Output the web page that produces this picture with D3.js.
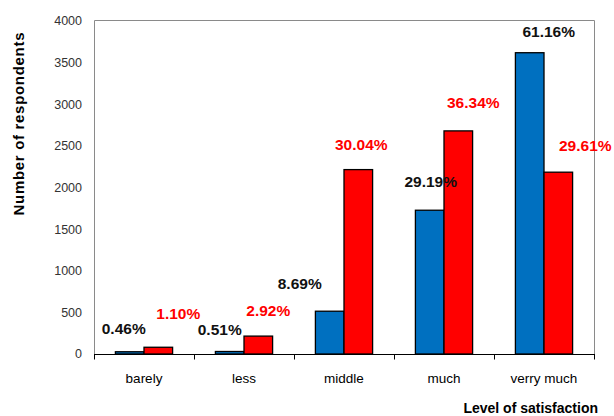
<!DOCTYPE html>
<html><head><meta charset="utf-8">
<script src="https://cdn.jsdelivr.net/npm/d3@7"></script>
<style>html,body{margin:0;padding:0;background:#fff;}svg{display:block;font-family:"Liberation Sans",Arial,sans-serif;}</style>
</head><body>
<svg id="chart" width="614" height="416"></svg>
<script>
const categories = ["barely", "less", "middle", "much", "verry much"];
const blueValues = [27, 30, 514, 1727, 3619];
const redValues = [81, 215, 2215, 2680, 2184];
const blueLabels = ["0.46%", "0.51%", "8.69%", "29.19%", "61.16%"];
const redLabels = ["1.10%", "2.92%", "30.04%", "36.34%", "29.61%"];
const yTicks = [0, 500, 1000, 1500, 2000, 2500, 3000, 3500, 4000];

// manual label nudges (dx from bar centre, dy above bar top)
const blueNudge = [[-6, 23], [-10, 22], [-30, 28], [1, 29], [19, 21]];
const redNudge = [[20, 34], [10, 26], [3, 25], [15, 28], [27, 27]];

const svg = d3.select("#chart");
const m = {left: 94, right: 594, top: 20, bottom: 354};

const x = d3.scaleBand().domain(categories).range([m.left, m.right]).padding(0);
const y = d3.scaleLinear().domain([0, 4000]).range([m.bottom, m.top + 1]);
const barW = 28.6;

// frame
svg.append("path")
  .attr("d", `M${m.left + 0.5},${m.bottom}V${m.top + 0.5}H${m.right + 0.5}V${m.bottom}`)
  .attr("fill", "none").attr("stroke", "#8a8a8a").attr("stroke-width", 1);

// y axis labels
svg.append("g").selectAll("text").data(yTicks).join("text")
  .attr("x", 82).attr("y", d => y(d)).attr("dy", "0.35em")
  .attr("text-anchor", "end").attr("font-size", "12.5px").attr("fill", "#333")
  .text(d => d);

// bars
const series = [
  {vals: blueValues, color: "#0070C0", off: -barW},
  {vals: redValues, color: "#FF0000", off: 0}
];
series.forEach(s => {
  svg.append("g").selectAll("rect").data(categories).join("rect")
    .attr("x", (c) => x(c) + x.bandwidth() / 2 + s.off)
    .attr("y", (c, i) => y(s.vals[i]))
    .attr("width", barW)
    .attr("height", (c, i) => y(0) - y(s.vals[i]))
    .attr("fill", s.color).attr("stroke", "#000").attr("stroke-width", 1.3);
});

// x axis
const xAxis = svg.append("g").attr("transform", `translate(0,${m.bottom + 0.5})`);
xAxis.append("line").attr("x1", m.left).attr("x2", m.right + 1).attr("stroke", "#000").attr("stroke-width", 1.2);
const bounds = categories.map(c => x(c)).concat([m.right]);
xAxis.selectAll("line.tk").data(bounds).join("line").attr("class", "tk")
  .attr("x1", d => d + 0.5).attr("x2", d => d + 0.5).attr("y1", 0).attr("y2", 5)
  .attr("stroke", "#000").attr("stroke-width", 1);
xAxis.selectAll("text").data(categories).join("text")
  .attr("x", d => x(d) + x.bandwidth() / 2).attr("y", 24).attr("dy", "0.35em")
  .attr("text-anchor", "middle").attr("font-size", "13.5px").attr("fill", "#000")
  .text(d => d);

// value labels
function labels(vals, texts, nudge, color, side) {
  svg.append("g").selectAll("text").data(categories).join("text")
    .attr("x", (c, i) => x(c) + x.bandwidth() / 2 + side * barW / 2 + nudge[i][0])
    .attr("y", (c, i) => y(vals[i]) - nudge[i][1]).attr("dy", "0.35em")
    .attr("text-anchor", "middle").attr("font-size", "15.5px").attr("font-weight", "bold")
    .attr("fill", color).text((c, i) => texts[i]);
}
labels(blueValues, blueLabels, blueNudge, "#111", -1);
labels(redValues, redLabels, redNudge, "#FF0000", 1);

// axis titles
svg.append("text").attr("transform", "translate(19,124) rotate(-90)")
  .attr("text-anchor", "middle").attr("dy", "0.35em")
  .attr("font-size", "15px").attr("font-weight", "bold").attr("fill", "#000")
  .attr("textLength", 183).attr("lengthAdjust", "spacing")
  .text("Number of respondents");
svg.append("text").attr("x", 598).attr("y", 408).attr("dy", "0.35em")
  .attr("text-anchor", "end").attr("font-size", "14px").attr("font-weight", "bold").attr("fill", "#000")
  .text("Level of satisfaction");
</script>
</body></html>
